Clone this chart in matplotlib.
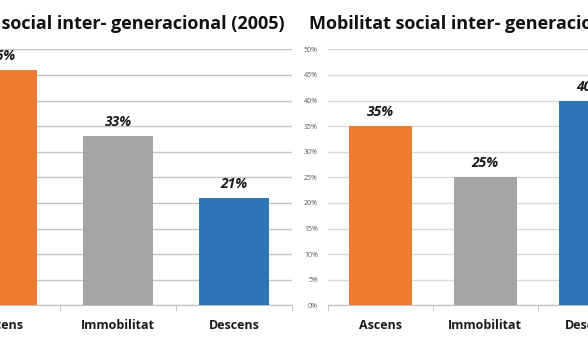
import matplotlib
matplotlib.use("Agg")
import matplotlib.pyplot as plt
from matplotlib.ticker import MultipleLocator, FuncFormatter

categories = ["Ascens", "Immobilitat", "Descens"]
values_2005 = [46, 33, 21]
values_right = [35, 25, 40]
title_left = "Mobilitat social inter- generacional (2005)"
title_right = "Mobilitat social inter- generacional (2015)"
bar_colors = ["#ED7D31", "#A5A5A5", "#2E75B6"]

W, H = 588, 353
plt.rcParams['font.family'] = ['Open Sans', 'DejaVu Sans']

fig = plt.figure(figsize=(W / 100, H / 100), dpi=100)
fig.patch.set_facecolor('white')


def px_axes(x0, x1, ytop, ybot):
    return fig.add_axes([x0 / W, (H - ybot) / H, (x1 - x0) / W, (ybot - ytop) / H])


def draw_chart(ax, values, grid_color, show_labels):
    xs = range(len(categories))
    ax.bar(xs, values, width=0.6, color=bar_colors, zorder=3)
    ax.set_xlim(-0.5, len(categories) - 0.5)
    ax.set_ylim(0, 50)
    ax.yaxis.set_major_locator(MultipleLocator(5))
    ax.yaxis.set_major_formatter(FuncFormatter(lambda v, p: f"{v:.0f}%"))
    ax.grid(axis='y', color=grid_color, linewidth=1.0, zorder=0)
    for s in ['top', 'right', 'left']:
        ax.spines[s].set_visible(False)
    ax.spines['bottom'].set_color('#BFBFBF')
    ax.set_xticks(xs)
    ax.set_xticklabels(categories, fontsize=9, fontweight='bold', color='#1a1a1a')
    ax.tick_params(axis='x', length=0, pad=10)
    # category boundary ticks
    ax.set_xticks([-0.5, 0.5, 1.5, 2.5], minor=True)
    ax.tick_params(axis='x', which='minor', length=4, color='#BFBFBF', direction='out')
    ax.tick_params(axis='y', length=0, labelsize=5, labelcolor='#595959', pad=7)
    if not show_labels:
        ax.set_yticklabels([])
    for x, v in zip(xs, values):
        ax.annotate(f"{v}%", (x, v), xytext=(0, 5), textcoords='offset points',
                    ha='center', va='bottom', fontsize=10, fontweight='bold',
                    fontstyle='italic', color='#1a1a1a')


ax1 = px_axes(-56, 292, 49.3, 305.3)
draw_chart(ax1, values_2005, '#C4C4C4', False)

ax2 = px_axes(327.7, 642.7, 49.3, 305.3)
draw_chart(ax2, values_right, '#D9D9D9', True)

fig.text(285 / W, (H - 24) / H, title_left, ha='right', va='center',
         fontsize=13, fontweight='bold', color='#111111')
fig.text(309 / W, (H - 24) / H, title_right, ha='left', va='center',
         fontsize=13, fontweight='bold', color='#111111')

fig.savefig("out.png", dpi=100)
